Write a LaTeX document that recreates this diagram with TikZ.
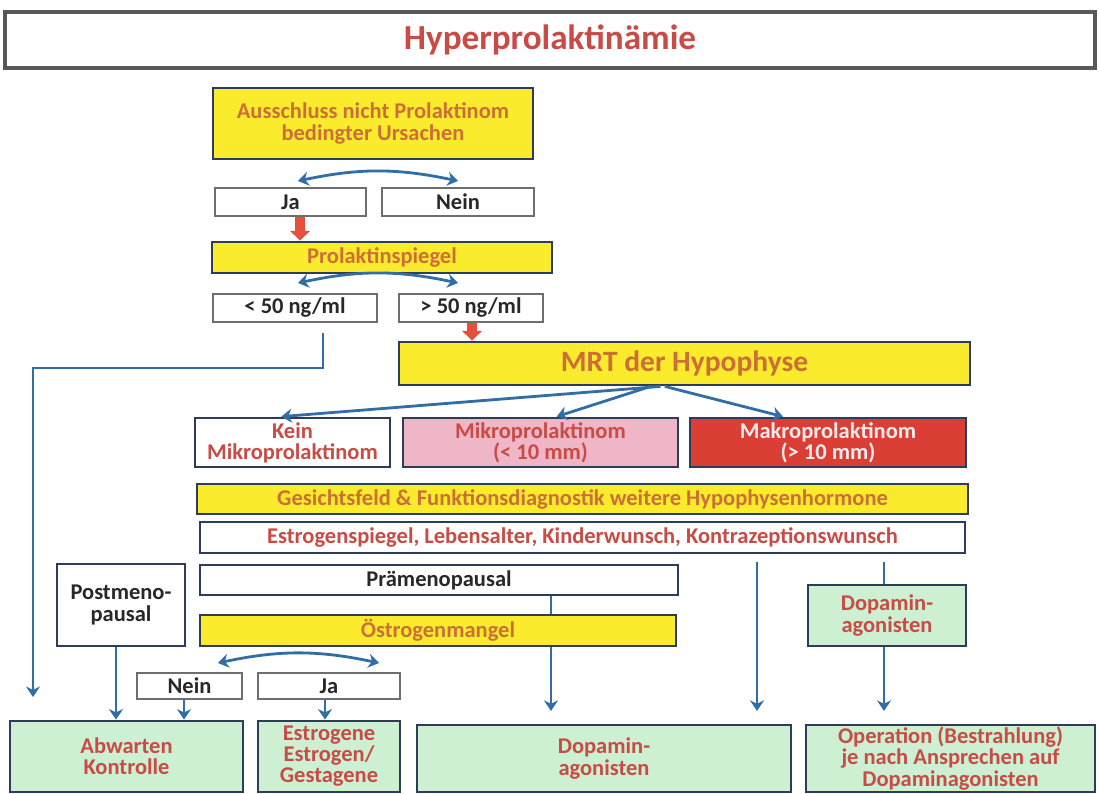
\documentclass[tikz,border=0pt]{standalone}
\usepackage{fontspec}
\setmainfont{Carlito}
\usetikzlibrary{arrows.meta,backgrounds}
\definecolor{gelb}{RGB}{250,236,45}
\definecolor{rahmen}{RGB}{45,60,90}
\definecolor{grau}{RGB}{110,110,110}
\definecolor{orangetext}{RGB}{205,110,55}
\definecolor{rottext}{RGB}{200,75,70}
\definecolor{dunkel}{RGB}{40,40,40}
\definecolor{gruen}{RGB}{205,240,210}
\definecolor{rosa}{RGB}{238,182,198}
\definecolor{makrorot}{RGB}{218,62,52}
\definecolor{blau}{RGB}{50,110,165}
\definecolor{rotpf}{RGB}{228,80,60}
\newcommand{\schrift}[2]{\fontsize{#1}{#2}\selectfont\bfseries}
\begin{document}
\begin{tikzpicture}[x=0.025cm, y=-0.025cm,
    gr/.style 2 args={minimum width=#1*0.025cm, minimum height=#2*0.025cm},
    kasten/.style={draw=rahmen, line width=2pt, align=center, inner sep=0pt},
    gelbbox/.style={kasten, fill=gelb, text=orangetext},
    weissbox/.style={kasten, fill=white, text=rottext},
    gruenbox/.style={kasten, fill=gruen, text=rottext},
    klein/.style={draw=grau, line width=1pt, fill=white, text=dunkel, inner sep=0pt},
    pfeil/.style={draw=blau, line width=2pt, -{Stealth[length=7.5pt, width=10pt]}},
    doppel/.style={draw=blau, line width=2pt, {Stealth[length=7.5pt, width=10pt]}-{Stealth[length=7.5pt, width=10pt]}},
    rotpfeil/.style={draw=rotpf, line width=6.5pt, -{Triangle[length=7pt, width=14pt]}}]
    \useasboundingbox (0,0) rectangle (1099,794);

    % Titel
    \node[draw=grau!80!black, line width=2.5pt, fill=white, gr={1090}{56}, text=rottext,
          font=\schrift{25}{28}] (titel) at (550,40) {Hyperprolaktinämie};

    % Ausschluss
    \node[gelbbox, gr={320}{71}, font=\schrift{16}{15.5}] (aus) at (373,123.5)
        {Ausschluss nicht Prolaktinom\\bedingter Ursachen};
    \node[klein, gr={151}{28}, font=\schrift{16}{16}] (ja1) at (290.5,202) {Ja};
    \node[klein, gr={152}{28}, font=\schrift{16}{16}] (nein1) at (458,202) {Nein};

    % Prolaktinspiegel
    \node[gelbbox, gr={340}{31}, font=\schrift{16}{16}] (prol) at (382,257.5) {Prolaktinspiegel};
    \node[klein, gr={164}{28}, font=\schrift{16}{16}] (lt50) at (295,308) {< 50 ng/ml};
    \node[klein, gr={144}{28}, font=\schrift{16}{16}] (gt50) at (471,308) {> 50 ng/ml};

    % MRT
    \node[gelbbox, gr={571}{43}, font=\schrift{21}{22}] (mrt) at (684.5,363.5) {MRT der Hypophyse};
    \node[weissbox, gr={195}{49}, font=\schrift{16}{15}] (kein) at (292.5,442.5) {Kein\\Mikroprolaktinom};
    \node[kasten, fill=rosa, text=rottext, gr={275}{49}, font=\schrift{16}{15}] (mikro) at (540.5,442.5)
        {Mikroprolaktinom\\(< 10 mm)};
    \node[kasten, fill=makrorot, text=white!92!red, gr={276}{49}, font=\schrift{16}{15}] (makro) at (828,442.5)
        {Makroprolaktinom\\(> 10 mm)};

    % Diagnostik
    \node[gelbbox, gr={771}{30}, font=\schrift{16}{16}] (gfeld) at (582.5,499)
        {Gesichtsfeld \& Funktionsdiagnostik weitere Hypophysenhormone};
    \node[weissbox, line width=1.5pt, gr={765}{31}, font=\schrift{16}{16}] (espie) at (582.5,537.5)
        {Estrogenspiegel, Lebensalter, Kinderwunsch, Kontrazeptionswunsch};

    % Menopause
    \node[kasten, fill=white, text=dunkel, gr={478}{30}, font=\schrift{16}{16}] (prae) at (439,580) {Prämenopausal};
    \node[gelbbox, gr={476}{31}, font=\schrift{16}{16}] (omang) at (438,630.5) {Östrogenmangel};
    \node[kasten, fill=white, text=dunkel, gr={128}{82}, font=\schrift{16}{16}] (post) at (121,605)
        {Postmeno-\\pausal};
    \node[gruenbox, gr={158}{61}, font=\schrift{16}{15}] (dopa1) at (887,615.5) {Dopamin-\\agonisten};
    \node[klein, gr={105}{26}, font=\schrift{16}{16}] (nein2) at (189.5,686) {Nein};
    \node[klein, gr={142}{26}, font=\schrift{16}{16}] (ja2) at (329,686) {Ja};

    % Therapie
    \node[gruenbox, gr={233}{71}, font=\schrift{16}{15}] (abw) at (126.5,756.5) {Abwarten\\Kontrolle};
    \node[gruenbox, gr={142}{71}, font=\schrift{16}{15}] (estr) at (329,756.5)
        {Estrogene\\Estrogen/\\Gestagene};
    \node[gruenbox, gr={374}{67}, font=\schrift{16}{15}] (dopa2) at (604,758.5) {Dopamin-\\agonisten};
    \node[gruenbox, gr={289}{67}, font=\schrift{16}{15}] (oper) at (950.5,758.5)
        {Operation (Bestrahlung)\\je nach Ansprechen auf\\Dopaminagonisten};

    % Hilfspunkte
    \foreach \n/\x in {sja/300, sgt/472, spr/551, ses/757, sdo/884, spo/116, sne/184, sja2/325}
        \coordinate (\n) at (\x,0);
    \coordinate (d1l) at (298,181);
    \coordinate (d1r) at (458,181);
    \coordinate (d2l) at (298,283);
    \coordinate (d2r) at (458,283);
    \coordinate (d3l) at (218,663);
    \coordinate (d3r) at (379,663);
    \coordinate (l1) at (323,333);
    \coordinate (lk) at (33,368);
    \coordinate (le) at (33,697);

    % Pfeile
    \draw[doppel] (d1l) to[bend left=12] (d1r);
    \draw[doppel] (d2l) to[bend left=12] (d2r);
    \draw[doppel] (d3l) to[bend left=12] (d3r);
    \draw[rotpfeil] (ja1.south -| sja) -- (prol.north -| sja);
    \draw[rotpfeil] (gt50.south -| sgt) -- (mrt.north -| sgt);
    \draw[pfeil] (l1) |- (lk) -- (le);
    \draw[pfeil] ([xshift=-17pt]mrt.south) -- ([xshift=-8pt]kein.north);
    \draw[pfeil] ([xshift=-24pt]mrt.south) -- ([xshift=11.5pt]mikro.north);
    \draw[pfeil] ([xshift=-14pt]mrt.south) -- ([xshift=-32pt]makro.north);
    \begin{scope}[on background layer]
        \draw[pfeil, shorten >=9pt] (prae.south -| spr) -- (dopa2.north -| spr);
    \end{scope}
    \draw[pfeil, shorten <=6pt, shorten >=9pt] (espie.south -| ses) -- (dopa2.north -| ses);
    \draw[blau, line width=2pt, shorten <=6pt] (espie.south -| sdo) -- (dopa1.north -| sdo);
    \draw[pfeil, shorten >=9pt] (dopa1.south -| sdo) -- (oper.north -| sdo);
    \draw[pfeil] (post.south -| spo) -- (abw.north -| spo);
    \draw[pfeil] (nein2.south -| sne) -- (abw.north -| sne);
    \draw[pfeil] (ja2.south -| sja2) -- (estr.north -| sja2);
\end{tikzpicture}
\end{document}
